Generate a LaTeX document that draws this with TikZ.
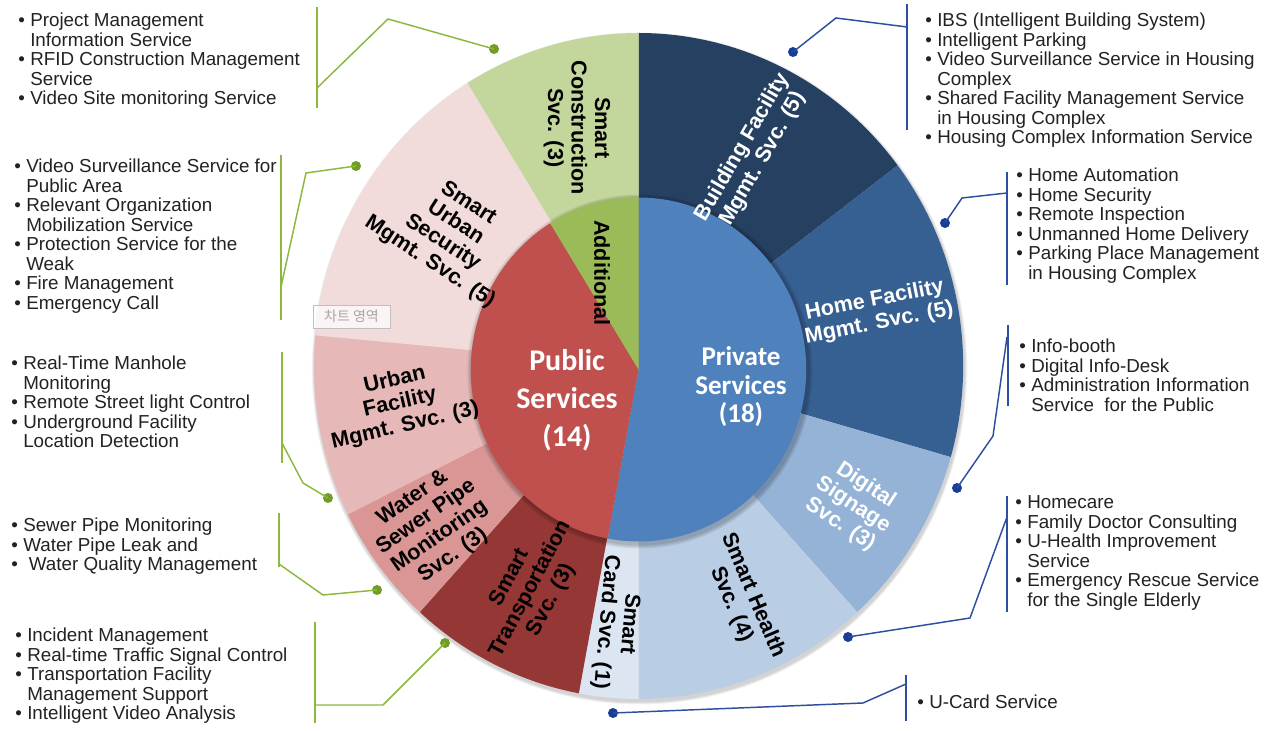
\documentclass[tikz,border=0pt]{standalone}
\usepackage{fontspec}
\setmainfont{Liberation Sans}
\newfontfamily\calibrifont{Carlito}
\newfontfamily\krfont{Noto Sans CJK KR}
\definecolor{cBldg}{HTML}{254061}
\definecolor{cHome}{HTML}{376092}
\definecolor{cDig}{HTML}{95B3D7}
\definecolor{cHealth}{HTML}{B9CDE5}
\definecolor{cCard}{HTML}{DCE6F2}
\definecolor{cTrans}{HTML}{953735}
\definecolor{cWater}{HTML}{D99694}
\definecolor{cUrban}{HTML}{E6B9B8}
\definecolor{cSec}{HTML}{F2DCDB}
\definecolor{cCons}{HTML}{C3D69B}
\definecolor{cPriv}{HTML}{4F81BD}
\definecolor{cPub}{HTML}{C0504D}
\definecolor{cAdd}{HTML}{9BBB59}
\definecolor{gLine}{HTML}{8CB83E}
\definecolor{gDot}{HTML}{6E9E26}
\definecolor{bLine}{HTML}{2E4FA0}
\definecolor{bDot}{HTML}{173D99}
\definecolor{txtc}{HTML}{222222}
\newcommand\lstrut{\rule[-0.25em]{0pt}{1em}}
\newcommand\bitem[1]{\lstrut\makebox[0.628em][l]{•}#1}
\newcommand\citem[1]{\lstrut\hspace*{0.628em}#1}
\tikzset{
  seglabel/.style={font=\bfseries\fontsize{16.2}{17.6}\selectfont, align=center, inner sep=0pt, text=black},
  seglabelw/.style={seglabel, text=white},
  innerlabel/.style={font=\calibrifont\bfseries, align=center, inner sep=0pt, text=white},
  listtxt/.style={font=\fontsize{14.1}{14.625}\selectfont, align=left, anchor=north west, inner sep=0pt, text=txtc},
  gline/.style={draw=gLine, line width=1.1pt},
  bline/.style={draw=bLine, line width=1.1pt},
  gdot/.style={circle, fill=gDot, inner sep=0pt, minimum size=7.5pt},
  bdot/.style={circle, fill=bDot, inner sep=0pt, minimum size=7.5pt}
}
\begin{document}
\begin{tikzpicture}[x=0.75pt,y=0.75pt]
\useasboundingbox (0,0) rectangle (1281,731);
\fill[white] (0,0) rectangle (1281,731);

% ---------- outer ring ----------
\begin{scope}[shift={(638.5,365)}, xscale=0.975]
  \foreach \r in {336,335,334} {\fill[black, opacity=0.06] (1,-2.5) circle (\r);}
  \foreach \a/\b/\c in {90/37.0588/cBldg, 37.0588/-15.8824/cHome, -15.8824/-47.6471/cDig,
      -47.6471/-90/cHealth, -90/-100.5882/cCard, -100.5882/-132.3529/cTrans,
      -132.3529/-153.5294/cWater, -153.5294/-185.2941/cUrban, -185.2941/-238.2353/cSec,
      -238.2353/-270/cCons}
    {\fill[\c] (0,0) -- (\a:333) arc[start angle=\a, end angle=\b, radius=333] -- cycle;}
\end{scope}

% ---------- inner pie ----------
\begin{scope}[shift={(638.5,361.5)}, xscale=0.975]
  \foreach \r in {177,175.5,174} {\fill[black, opacity=0.08] (1.5,-2) circle (\r);}
  \fill[cPriv] (0,0) -- (90:172) arc[start angle=90, end angle=-100.5882, radius=172] -- cycle;
  \fill[cPub] (0,0) -- (-100.5882:172) arc[start angle=-100.5882, end angle=-238.2353, radius=172] -- cycle;
  \fill[cAdd] (0,0) -- (121.7647:172) arc[start angle=121.7647, end angle=90, radius=172] -- cycle;
\end{scope}

% ---------- segment labels ----------
\node[seglabel, rotate=-90] (lbCons) at (577,603) {Smart\\Construction\\Svc. (3)};
\node[seglabel, rotate=-90] (lbAdd) at (602,458) {Additional};
\node[seglabelw, rotate=60] (lbBldg) at (753,578) {Building Facility\\Mgmt. Svc. (5)};
\node[seglabelw, rotate=11] (lbHome) at (877,419) {Home Facility\\Mgmt. Svc. (5)};
\node[seglabelw, rotate=-33] (lbDig) at (853,226) {Digital\\Signage\\Svc. (3)};
\node[seglabel, rotate=-67] (lbHealth) at (742,131) {Smart Health\\Svc. (4)};
\node[seglabel, rotate=-95] (lbCard) at (617,108) {Smart\\Card Svc. (1)};
\node[seglabel, rotate=62] (lbTrans) at (531,142) {Smart\\Transportation\\Svc. (3)};
\node[seglabel, rotate=35] (lbWater) at (433,204) {Water \&\\Sewer Pipe\\Monitoring\\Svc. (3)};
\node[seglabel, rotate=13] (lbUrban) at (400,328) {Urban\\Facility\\Mgmt. Svc. (3)};
\node[seglabel, rotate=-33] (lbSec) at (449,498) {Smart\\Urban\\Security\\Mgmt. Svc. (5)};
\node[innerlabel, font=\calibrifont\bfseries\fontsize{22.5}{28.5}\selectfont] (lbPub) at (567,331) {Public\\Services\\(14)};
\node[innerlabel, font=\calibrifont\bfseries\fontsize{20.3}{21.4}\selectfont] (lbPriv) at (741,344) {Private\\Services\\(18)};

% ---------- chart-area tag ----------
\node[draw=black!25, fill=white, fill opacity=0.7, text opacity=1, text=black!35,
      font=\krfont\fontsize{10.5}{11}\selectfont, minimum width=57.75pt, minimum height=17.25pt, inner sep=1pt]
      (tag) at (351.5,414.5) {차트 영역};

% ---------- left lists ----------
\node[listtxt] (lCons) at (18.2,718.4) {\bitem{Project Management}\\\citem{Information Service}\\\bitem{RFID Construction Management}\\\citem{Service}\\\bitem{Video Site monitoring Service}};
\node[listtxt] (lSec) at (14.2,572.4) {\bitem{Video Surveillance Service for}\\\citem{Public Area}\\\bitem{Relevant Organization}\\\citem{Mobilization Service}\\\bitem{Protection Service for the}\\\citem{Weak}\\\bitem{Fire Management}\\\bitem{Emergency Call}};
\node[listtxt] (lUrban) at (11.2,375.4) {\bitem{Real-Time Manhole}\\\citem{Monitoring}\\\bitem{Remote Street light Control}\\\bitem{Underground Facility}\\\citem{Location Detection}};
\node[listtxt] (lWater) at (11.2,213.4) {\bitem{Sewer Pipe Monitoring}\\\bitem{Water Pipe Leak and}\\\bitem{\hspace*{0.3em}Water Quality Management}};
\node[listtxt] (lTrans) at (15.2,103.4) {\bitem{Incident Management}\\\bitem{Real-time Traffic Signal Control}\\\bitem{Transportation Facility}\\\citem{Management Support}\\\bitem{Intelligent Video Analysis}};

% ---------- right lists ----------
\node[listtxt] (rBldg) at (925.2,718.4) {\bitem{IBS (Intelligent Building System)}\\\bitem{Intelligent Parking}\\\bitem{Video Surveillance Service in Housing}\\\citem{Complex}\\\bitem{Shared Facility Management Service}\\\citem{in Housing Complex}\\\bitem{Housing Complex Information Service}};
\node[listtxt] (rHome) at (1016.2,563.4) {\bitem{Home Automation}\\\bitem{Home Security}\\\bitem{Remote Inspection}\\\bitem{Unmanned Home Delivery}\\\bitem{Parking Place Management}\\\citem{in Housing Complex}};
\node[listtxt] (rDig) at (1019.2,392.4) {\bitem{Info-booth}\\\bitem{Digital Info-Desk}\\\bitem{Administration Information}\\\citem{Service~ for the Public}};
\node[listtxt] (rHealth) at (1015.2,236.4) {\bitem{Homecare}\\\bitem{Family Doctor Consulting}\\\bitem{U-Health Improvement}\\\citem{Service}\\\bitem{Emergency Rescue Service}\\\citem{for the Single Elderly}};
\node[listtxt] (rCard) at (917.2,36.4) {\bitem{U-Card Service}};

% ---------- green brackets and connectors ----------
\coordinate (g1t) at (317,724); \coordinate (g1b) at (317,623); \coordinate (g1j) at (317,643); \coordinate (g1k) at (388,712);
\node[gdot] (gd1) at (494,682) {};
\draw[gline] (g1t) -- (g1b);
\draw[gline] (g1j) -- (g1k) -- (gd1.center);

\coordinate (g2t) at (281,576); \coordinate (g2b) at (281,411); \coordinate (g2j) at (281,444); \coordinate (g2k) at (306,558);
\node[gdot] (gd2) at (356,565) {};
\draw[gline] (g2t) -- (g2b);
\draw[gline] (g2j) -- (g2k) -- (gd2.center);

\coordinate (g3t) at (282,379); \coordinate (g3b) at (282,268); \coordinate (g3j) at (282,288); \coordinate (g3k) at (303,248);
\node[gdot] (gd3) at (328,233) {};
\draw[gline] (g3t) -- (g3b);
\draw[gline] (g3j) -- (g3k) -- (gd3.center);

\coordinate (g4t) at (279,218); \coordinate (g4b) at (279,164); \coordinate (g4j) at (279,167); \coordinate (g4k) at (323,136);
\node[gdot] (gd4) at (377,141) {};
\draw[gline] (g4t) -- (g4b);
\draw[gline] (g4j) -- (g4k) -- (gd4.center);

\coordinate (g5t) at (315,109); \coordinate (g5b) at (315,8); \coordinate (g5j) at (315,26); \coordinate (g5k) at (383,26);
\node[gdot] (gd5) at (445,88) {};
\draw[gline] (g5t) -- (g5b);
\draw[gline] (g5j) -- (g5k) -- (gd5.center);

% ---------- blue brackets and connectors ----------
\coordinate (b1t) at (907,727); \coordinate (b1b) at (907,601); \coordinate (b1j) at (907,704); \coordinate (b1k) at (836,713);
\node[bdot] (bd1) at (793,679) {};
\draw[bline] (b1t) -- (b1b);
\draw[bline] (bd1.center) -- (b1k) -- (b1j);

\coordinate (b2t) at (1007,559); \coordinate (b2b) at (1007,446); \coordinate (b2j) at (1007,538); \coordinate (b2k) at (962,533);
\node[bdot] (bd2) at (945,508) {};
\draw[bline] (b2t) -- (b2b);
\draw[bline] (bd2.center) -- (b2k) -- (b2j);

\coordinate (b3t) at (1008,406); \coordinate (b3b) at (1008,325); \coordinate (b3j) at (1007,394); \coordinate (b3k) at (993,295);
\node[bdot] (bd3) at (957,243) {};
\draw[bline] (b3t) -- (b3b);
\draw[bline] (bd3.center) -- (b3k) -- (b3j);

\coordinate (b4t) at (1007,235); \coordinate (b4b) at (1007,119); \coordinate (b4j) at (1007,214); \coordinate (b4k) at (970,113);
\node[bdot] (bd4) at (848,94) {};
\draw[bline] (b4t) -- (b4b);
\draw[bline] (bd4.center) -- (b4k) -- (b4j);

\coordinate (b5t) at (906,56); \coordinate (b5b) at (906,10); \coordinate (b5j) at (906,47); \coordinate (b5k) at (863,28);
\node[bdot] (bd5) at (613,18) {};
\draw[bline] (b5t) -- (b5b);
\draw[bline] (bd5.center) -- (b5k) -- (b5j);
\end{tikzpicture}
\end{document}
